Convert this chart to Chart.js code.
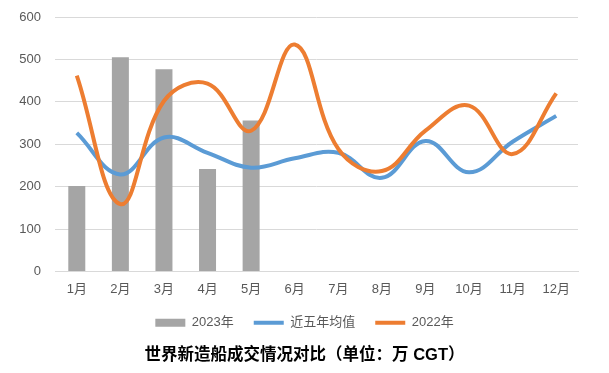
<!DOCTYPE html>
<html lang="zh">
<head>
  <meta charset="UTF-8">
  <title>世界新造船成交情况对比</title>
  <script src="https://cdn.jsdelivr.net/npm/chart.js"></script>
  <style>
    html, body { margin: 0; padding: 0; background: #fff; }
    #wrap { width: 609px; height: 373px; }
  </style>
</head>
<body>
  <div id="wrap"><canvas id="chart"></canvas></div>
  <script>
    const months = ['1月', '2月', '3月', '4月', '5月', '6月', '7月', '8月', '9月', '10月', '11月', '12月'];
    const y2023 = [202, 505, 477, 242, 356];
    const avg5y = [327, 229, 316, 280, 245, 267, 280, 221, 308, 234, 306, 367];
    const y2022 = [462, 159, 402, 443, 332, 535, 289, 237, 332, 391, 277, 420];

    const fontFamily = '"Liberation Sans", "Noto Sans CJK SC", sans-serif';

    new Chart(document.getElementById('chart'), {
      type: 'bar',
      data: {
        labels: months,
        datasets: [
          {
            type: 'bar',
            label: '2023年',
            data: y2023,
            backgroundColor: '#a5a5a5',
            borderWidth: 0,
            barPercentage: 0.39,
            categoryPercentage: 1,
            pointStyle: 'rect',
            order: 3
          },
          {
            type: 'line',
            label: '近五年均值',
            data: avg5y,
            borderColor: '#5b9bd5',
            backgroundColor: '#5b9bd5',
            borderWidth: 4,
            pointRadius: 0,
            tension: 0.4,
            pointStyle: 'line',
            order: 2
          },
          {
            type: 'line',
            label: '2022年',
            data: y2022,
            borderColor: '#ed7d31',
            backgroundColor: '#ed7d31',
            borderWidth: 4,
            pointRadius: 0,
            tension: 0.4,
            pointStyle: 'line',
            order: 1
          }
        ]
      },
      options: {
        responsive: true,
        maintainAspectRatio: false,
        animation: false,
        layout: { padding: { left: 17, right: 17, top: 17, bottom: 8 } },
        plugins: {
          legend: {
            position: 'bottom',
            labels: {
              usePointStyle: true,
              pointStyleWidth: 30,
              boxHeight: 8,
              padding: 20,
              color: '#595959',
              font: { family: fontFamily, size: 13 },
              sort: (a, b) => a.datasetIndex - b.datasetIndex
            }
          },
          title: {
            display: true,
            position: 'bottom',
            text: '世界新造船成交情况对比（单位：万 CGT）',
            color: '#000',
            font: { family: fontFamily, size: 16.5, weight: 'bold' },
            padding: { top: 6, bottom: 0 }
          },
          tooltip: { enabled: false }
        },
        scales: {
          x: {
            grid: { display: false, drawTicks: false },
            border: { color: '#d9d9d9' },
            ticks: { color: '#595959', font: { family: fontFamily, size: 13 }, padding: 10 },
            afterFit: (s) => { s.height -= 11; }
          },
          y: {
            min: 0,
            max: 600,
            ticks: { stepSize: 100, color: '#595959', font: { family: fontFamily, size: 13 }, padding: 14 },
            grid: { color: '#d9d9d9', drawTicks: false },
            border: { display: false },
            afterFit: (s) => { s.width = 38; s.paddingTop = 0; }
          },
          yRight: {
            type: 'linear',
            position: 'right',
            min: 0,
            max: 600,
            grid: { display: false, drawTicks: false },
            border: { display: false },
            ticks: { display: false },
            afterFit: (s) => { s.width = 14; s.paddingTop = 0; }
          }
        }
      }
    });
  </script>
</body>
</html>
